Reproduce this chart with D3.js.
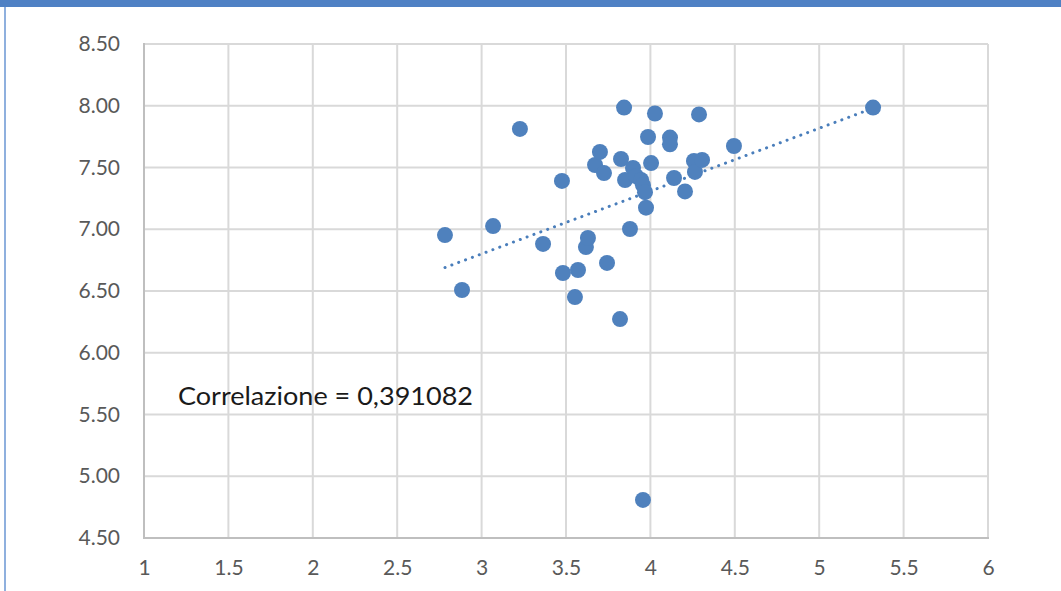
<!DOCTYPE html>
<html>
<head>
<meta charset="utf-8">
<script src="https://cdn.jsdelivr.net/npm/d3@7"></script>
<style>
  html, body { margin: 0; padding: 0; background: #fff; }
  svg { display: block; }
</style>
</head>
<body>
<svg id="chart" width="1061" height="591"></svg>
<script>
// ---- data ----
const xValues = [2.783, 2.884, 3.068, 3.227, 3.364, 3.476, 3.482, 3.553, 3.571, 3.618,
  3.630, 3.672, 3.701, 3.725, 3.743, 3.820, 3.826, 3.844, 3.850, 3.879,
  3.897, 3.915, 3.945, 3.956, 3.968, 3.974, 3.956, 3.986, 4.004, 4.027,
  4.116, 4.116, 4.140, 4.205, 4.258, 4.264, 4.288, 4.306, 4.495, 5.319];
const yValues = [6.953, 6.508, 7.026, 7.812, 6.881, 7.391, 6.646, 6.451, 6.670, 6.856,
  6.929, 7.520, 7.626, 7.455, 6.727, 6.273, 7.569, 7.985, 7.399, 7.002,
  7.496, 7.430, 7.399, 7.357, 7.300, 7.175, 4.808, 7.747, 7.536, 7.937,
  7.742, 7.688, 7.415, 7.306, 7.553, 7.464, 7.930, 7.561, 7.674, 7.985];
const trendX = [2.783, 5.319];
const trendY = [6.69, 7.98];
const xTicks = [1, 1.5, 2, 2.5, 3, 3.5, 4, 4.5, 5, 5.5, 6];
const xTickLabels = ["1", "1.5", "2", "2.5", "3", "3.5", "4", "4.5", "5", "5.5", "6"];
const yTicks = [4.5, 5, 5.5, 6, 6.5, 7, 7.5, 8, 8.5];
const yTickLabels = ["4.50", "5.00", "5.50", "6.00", "6.50", "7.00", "7.50", "8.00", "8.50"];
const annotation = "Correlazione = 0,391082";

// ---- layout ----
const svg = d3.select("#chart");
const x = d3.scaleLinear().domain([1, 6]).range([144, 988]);
const y = d3.scaleLinear().domain([4.5, 8.5]).range([538, 44]);
const font = "Lato, 'Open Sans', sans-serif";

// frame
svg.append("rect").attr("x", 0).attr("y", 0).attr("width", 1061).attr("height", 7).attr("fill", "#4f81c4");
svg.append("rect").attr("x", 4).attr("y", 7).attr("width", 2).attr("height", 584).attr("fill", "#8fb0de");

// gridlines
const grid = svg.append("g");
grid.selectAll("line.v").data(xTicks.slice(1)).join("line")
  .attr("x1", d => x(d)).attr("x2", d => x(d))
  .attr("y1", y(8.5)).attr("y2", y(4.5))
  .attr("stroke", "#d9d9d9").attr("stroke-width", 2);
grid.selectAll("line.h").data(yTicks.slice(1)).join("line")
  .attr("x1", x(1)).attr("x2", x(6))
  .attr("y1", d => y(d)).attr("y2", d => y(d))
  .attr("stroke", "#d9d9d9").attr("stroke-width", 2);

// axis lines
svg.append("line").attr("x1", x(1)).attr("x2", x(1)).attr("y1", y(8.5) - 1).attr("y2", y(4.5) + 1)
  .attr("stroke", "#bfbfbf").attr("stroke-width", 2);
svg.append("line").attr("x1", x(1) - 1).attr("x2", x(6) + 1).attr("y1", y(4.5)).attr("y2", y(4.5))
  .attr("stroke", "#bfbfbf").attr("stroke-width", 2);

// axes via d3 axis generators (no domain/ticks lines)
const yAxis = d3.axisLeft(y).tickValues(yTicks).tickFormat((d, i) => yTickLabels[i]).tickSize(0).tickPadding(24);
const gy = svg.append("g").attr("transform", `translate(${x(1)},0)`).call(yAxis);
gy.select(".domain").remove();
gy.selectAll("text").attr("font-family", font).attr("font-size", 21).attr("fill", "#595959");

const xAxis = d3.axisBottom(x).tickValues(xTicks).tickFormat((d, i) => xTickLabels[i]).tickSize(0).tickPadding(22);
const gx = svg.append("g").attr("transform", `translate(0,${y(4.5)})`).call(xAxis);
gx.select(".domain").remove();
gx.selectAll("text").attr("font-family", font).attr("font-size", 21).attr("fill", "#595959");

// trendline
const line = d3.line().x(d => x(d[0])).y(d => y(d[1]));
svg.append("path")
  .datum(d3.zip(trendX, trendY))
  .attr("d", line)
  .attr("fill", "none")
  .attr("stroke", "#4a7ebb")
  .attr("stroke-width", 3)
  .attr("stroke-linecap", "round")
  .attr("stroke-dasharray", "0.1 7.2");

// points
svg.append("g").selectAll("circle").data(d3.zip(xValues, yValues)).join("circle")
  .attr("cx", d => x(d[0])).attr("cy", d => y(d[1])).attr("r", 8)
  .attr("fill", "#4f81bd");

// annotation
svg.append("text").attr("x", 178).attr("y", 405)
  .attr("font-family", font).attr("font-size", 25).attr("fill", "#1a1a1a")
  .attr("textLength", 295).attr("lengthAdjust", "spacingAndGlyphs")
  .text(annotation);
</script>
</body>
</html>
